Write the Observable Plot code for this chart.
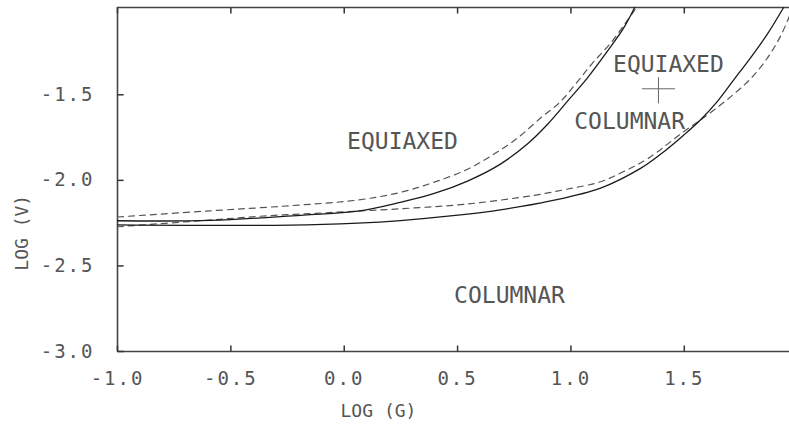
<!DOCTYPE html>
<html>
<head>
<meta charset="utf-8">
<script src="https://cdn.jsdelivr.net/npm/d3@7"></script>
<script src="https://cdn.jsdelivr.net/npm/@observablehq/plot@0.6"></script>
<style>
  html, body { margin: 0; padding: 0; background: #fff; }
  #chart svg { display: block; }
  #chart g[aria-label="x-axis tick label"] text,
  #chart g[aria-label="y-axis tick label"] text { letter-spacing: 2px; }
  #chart g[aria-label="region"] text { letter-spacing: 0.6px; }
</style>
</head>
<body>
<div id="chart"></div>
<script>
// ---- data ----
const xTicks = [-1.0, -0.5, 0.0, 0.5, 1.0, 1.5];
const yTicks = [-3.0, -2.5, -2.0, -1.5];

// upper (left) pair of boundaries
const solidA_x = [-1.0, -0.59, -0.18, 0.059, 0.248, 0.394, 0.544, 0.689, 0.809, 0.897, 0.985, 1.073, 1.161, 1.232, 1.281];
const solidA_y = [-2.236, -2.234, -2.203, -2.18, -2.128, -2.078, -2.004, -1.905, -1.786, -1.672, -1.537, -1.401, -1.245, -1.111, -0.99];
const dashA_x  = [-1.0, -0.59, -0.237, 0.059, 0.248, 0.394, 0.544, 0.659, 0.764, 0.866, 0.954, 1.029, 1.095, 1.175, 1.241, 1.289];
const dashA_y  = [-2.214, -2.178, -2.148, -2.115, -2.07, -2.012, -1.935, -1.848, -1.753, -1.636, -1.54, -1.423, -1.315, -1.198, -1.080, -0.99];

// lower (right) pair of boundaries
const solidB_x = [-1.0, -0.237, 0.059, 0.248, 0.469, 0.689, 0.910, 1.131, 1.307, 1.395, 1.497, 1.572, 1.647, 1.718, 1.792, 1.867, 1.938];
const solidB_y = [-2.26, -2.262, -2.25, -2.235, -2.208, -2.172, -2.12, -2.045, -1.93, -1.848, -1.736, -1.646, -1.537, -1.413, -1.284, -1.144, -0.99];
const dashB_x  = [-1.0, -0.634, -0.338, -0.047, 0.248, 0.544, 0.835, 0.98, 1.131, 1.23, 1.338, 1.497, 1.603, 1.704, 1.792, 1.867, 1.925, 1.964];
const dashB_y  = [-2.271, -2.236, -2.207, -2.187, -2.166, -2.138, -2.088, -2.052, -2.008, -1.95, -1.874, -1.716, -1.617, -1.512, -1.407, -1.284, -1.156, -1.039];

// region labels
const regionText = ["EQUIAXED", "EQUIAXED", "COLUMNAR", "COLUMNAR"];
const regionX = [0.257, 1.43, 1.259, 0.729];
const regionY = [-1.774, -1.322, -1.658, -2.673];

// "+" marker between the two right labels
const plusX = [1.316, 1.461];
const plusY = [-1.40, -1.553];
const plusCenter = {x: 1.386, y: -1.465};

const toPts = (xs, ys) => xs.map((x, i) => ({x, y: ys[i]}));

const font = "DejaVu Sans Mono, monospace";
const fmt = d => d.toFixed(1);
const xDom = [-1, 1.964], yDom = [-3, -0.99];
const tickLenX = 0.035, tickLenY = 0.027; // ~6px inward ticks

const bottomTicks = xTicks.map(x => ({x1: x, x2: x, y1: yDom[0], y2: yDom[0] + tickLenX}));
const topTicks = xTicks.map(x => ({x1: x, x2: x, y1: yDom[1], y2: yDom[1] - tickLenX}));
const leftTicks = yTicks.map(y => ({x1: xDom[0], x2: xDom[0] + tickLenY, y1: y, y2: y}));
const allTicks = bottomTicks.concat(topTicks, leftTicks);

const chart = Plot.plot({
  width: 789,
  height: 430,
  marginLeft: 117,
  marginRight: 0,
  marginTop: 7,
  marginBottom: 79,
  x: {domain: xDom},
  y: {domain: yDom},
  style: {fontFamily: font, background: "#fff", color: "#555"},
  marks: [
    // frame (left, bottom, top)
    Plot.ruleX([xDom[0]], {stroke: "#444", strokeWidth: 1.6}),
    Plot.ruleY(yDom, {stroke: "#444", strokeWidth: 1.6}),
    // inward ticks
    Plot.link(allTicks, {x1: "x1", y1: "y1", x2: "x2", y2: "y2", stroke: "#333", strokeWidth: 1.5}),
    // tick labels
    Plot.axisX({anchor: "bottom", ticks: xTicks, tickFormat: fmt, tickSize: 0, tickPadding: 20,
      fontSize: 19, color: "#555", label: null}),
    Plot.axisY({anchor: "left", ticks: yTicks, tickFormat: fmt, tickSize: 0, tickPadding: 23,
      fontSize: 19, color: "#555", label: null}),
    // axis titles
    Plot.text(["LOG (G)"], {x: 0.151, y: -3, dy: 60, text: d => d, fontSize: 18, fill: "#555"}),
    Plot.text(["LOG (V)"], {x: -1, y: -2.306, dx: -95, rotate: -90, text: d => d, fontSize: 18, fill: "#555"}),
    // boundary curves
    Plot.line(toPts(dashA_x, dashA_y), {x: "x", y: "y", curve: "catmull-rom", stroke: "#555", strokeWidth: 1.2, strokeDasharray: "6,5", clip: true}),
    Plot.line(toPts(dashB_x, dashB_y), {x: "x", y: "y", curve: "catmull-rom", stroke: "#555", strokeWidth: 1.2, strokeDasharray: "6,5", clip: true}),
    Plot.line(toPts(solidA_x, solidA_y), {x: "x", y: "y", curve: "catmull-rom", stroke: "#1a1a1a", strokeWidth: 1.3, clip: true}),
    Plot.line(toPts(solidB_x, solidB_y), {x: "x", y: "y", curve: "catmull-rom", stroke: "#1a1a1a", strokeWidth: 1.3, clip: true}),
    // region labels
    Plot.text(regionText, {x: (d, i) => regionX[i], y: (d, i) => regionY[i], text: d => d,
      fontSize: 23, fill: "#555", ariaLabel: "region"}),
    // plus marker
    Plot.ruleY([plusCenter.y], {x1: plusX[0], x2: plusX[1], stroke: "#666", strokeWidth: 1}),
    Plot.ruleX([plusCenter.x], {y1: plusY[0], y2: plusY[1], stroke: "#666", strokeWidth: 1})
  ]
});
document.getElementById("chart").appendChild(chart);
</script>
</body>
</html>
